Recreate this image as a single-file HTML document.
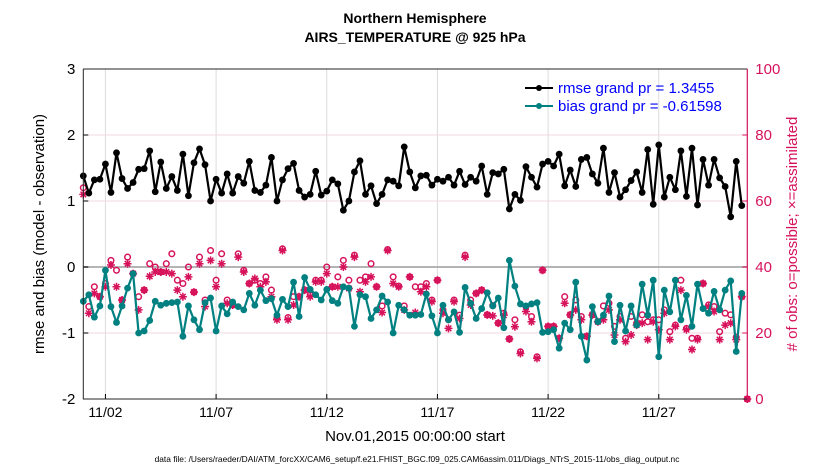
<!DOCTYPE html>
<html><head><meta charset="utf-8"><style>
body{margin:0;background:#fff;}
svg{display:block;font-family:"Liberation Sans",sans-serif;}
</style></head><body>
<svg id="chart" width="830" height="470" viewBox="0 0 830 470">
<text x="415" y="23" text-anchor="middle" font-size="14" font-weight="bold">Northern Hemisphere</text>
<text x="415" y="42" text-anchor="middle" font-size="14" font-weight="bold">AIRS_TEMPERATURE @ 925 hPa</text>
<g id="grid"></g>
<g id="marks"></g>
<g id="axes"></g>
<text transform="translate(44,234) rotate(-90)" text-anchor="middle" font-size="15">rmse and bias (model - observation)</text>
<text transform="translate(797,234) rotate(-90)" text-anchor="middle" font-size="15" fill="#d6125b"># of obs: o=possible; ×=assimilated</text>
<text x="415" y="441" text-anchor="middle" font-size="15">Nov.01,2015 00:00:00 start</text>
<text x="417" y="462" text-anchor="middle" font-size="8.4">data file: /Users/raeder/DAI/ATM_forcXX/CAM6_setup/f.e21.FHIST_BGC.f09_025.CAM6assim.011/Diags_NTrS_2015-11/obs_diag_output.nc</text>
<g>
<line x1="525" y1="88" x2="553" y2="88" stroke="#000" stroke-width="2"/>
<circle cx="539" cy="88" r="3" fill="#000"/>
<text x="558" y="93" font-size="15" fill="#0000ff">rmse grand pr = 1.3455</text>
<line x1="525" y1="106" x2="553" y2="106" stroke="#008080" stroke-width="2"/>
<circle cx="539" cy="106" r="3" fill="#008080"/>
<text x="558" y="111" font-size="15" fill="#0000ff">bias grand pr = -0.61598</text>
</g>
</svg>
<script>
const rmse=[1.38,1.12,1.32,1.33,1.56,1.13,1.73,1.34,1.19,1.28,1.48,1.49,1.76,1.14,1.59,1.19,1.37,1.16,1.71,1.08,1.58,1.79,1.55,1.0,1.33,1.12,1.41,1.12,1.37,1.27,
1.60,1.16,1.13,1.24,1.66,1.0,1.32,1.49,1.57,1.16,1.06,1.1,1.45,1.09,1.15,1.32,1.26,0.86,1.0,1.44,1.61,1.1,1.23,0.96,1.1,1.32,1.3,1.23,1.82,1.44,
1.2,1.38,1.39,1.24,1.33,1.3,1.36,1.24,1.45,1.25,1.36,1.3,1.53,1.10,1.43,1.41,1.48,0.88,1.10,1.01,1.52,1.36,1.21,1.56,1.6,1.53,1.71,1.23,1.47,1.22,
1.63,1.66,1.41,1.27,1.8,1.13,1.43,1.06,1.17,1.31,1.44,1.13,1.78,0.95,1.85,1.06,1.36,1.17,1.76,1.07,1.8,0.94,1.63,1.24,1.63,1.35,1.22,0.76,1.6,0.93];
const bias=[-0.52,-0.42,-0.76,-0.59,-0.05,-0.60,-0.84,-0.59,-0.32,-0.10,-1.0,-0.97,-0.81,-0.52,-0.58,-0.55,-0.54,-0.53,-1.05,-0.59,-0.80,-0.95,-0.54,-0.47,-0.97,-0.59,-0.71,-0.53,-0.60,-0.65,
-0.40,-0.58,-0.35,-0.51,-0.48,-0.73,-0.49,-0.60,-0.23,-0.75,-0.16,-0.34,-0.42,-0.50,-0.34,-0.51,-0.55,-0.30,-0.32,-0.90,-0.42,-0.45,-0.78,-0.65,-0.44,-0.53,-1.0,-0.58,-0.65,-0.73,
-0.73,-0.72,-0.41,-0.74,-1.0,-0.58,-0.80,-0.68,-0.99,-0.31,-0.55,-0.78,-0.63,-0.39,-0.59,-0.47,-0.92,0.10,-0.29,-0.56,-0.59,-0.56,-0.54,-0.99,-0.98,-0.95,-1.23,-0.85,-0.95,-0.23,
-1.05,-1.41,-0.60,-0.83,-0.73,-0.44,-1.13,-0.58,-0.97,-0.59,-0.88,-0.26,-0.73,-0.20,-1.36,-0.35,-0.68,-0.20,-0.80,-0.43,-0.90,-0.26,-0.63,-0.70,-0.37,-0.65,-0.35,-0.21,-1.28,-0.40];
const possible=[64,28,34,31,35,42,39,30,43,38,31,33,41,40,38.5,41,44,36,35,40,32.4,43,30,45,36,44,30,28.5,44,39,
35,36,35,37,33,24.5,45.5,24.7,31,31,33,31.5,36,36,40,34,37,42,36,43.6,36,37,41,34,28.2,45.3,37,34.2,28.2,37,
34,34,35,30,36,27,24,30,25.4,43.6,30,32,33,25.5,28.3,23,26,18.2,24,14.3,28,25,12.8,39,22,22,18.4,31,25.5,30,
25,19,25.5,23.4,28.2,29,22,25,18.4,25,23,25.5,23.4,24,24,27,20.4,22.4,36,21.4,18.4,18.4,35,28.5,28,20.4,26,25.5,18.7,31,0];
const assimilated=[62,26,32,31,34,40.6,34,30,41,38,27,33,37.2,38.5,38.5,38.5,38,33,31,37,32.4,41,28,42,34,41,29,28.5,43,38.5,
35,36.5,34,35.5,31,24,45,24,28.5,31,33,31,35.5,35.5,38,34,34,40,33.5,43,32.5,35.5,37,34,26.2,45,35,34,27,37,
26.2,32.5,34,29.5,36,26,21.4,29.5,24.4,43,28.5,32,33,25.5,25.2,23,25.4,18.2,21.9,13.8,26.5,23.4,12.3,39,22,22,18.4,29,25.5,27,
24,19,25.5,23.4,24,27,19.4,24,17.4,19.4,22.4,23,18,23.4,21,26,18,22,33,21,15,18,35,28,26.5,18,22.4,23,18,31,0];
const xTickDays=[1,6,11,16,21,26];
const xTickLabels=["11/02","11/07","11/12","11/17","11/22","11/27"];
const yLeftTicks=[3,2,1,0,-1,-2];
const yRightTicks=[100,80,60,40,20,0];

const NS="http://www.w3.org/2000/svg";
const L=83.3,R=747.3,T=69,B=399;
const xDay=d=>L+(R-L)*d/30;
const xIdx=i=>xDay(i/4);
const yL=v=>T+(3-v)*(B-T)/5;
const yR=v=>B-v*(B-T)/100;
function mk(tag,attrs,parent){const e=document.createElementNS(NS,tag);for(const k in attrs)e.setAttribute(k,attrs[k]);parent.appendChild(e);return e;}
const grid=document.getElementById('grid'),marks=document.getElementById('marks'),axes=document.getElementById('axes');
const RED="#d6125b",TEAL="#008080";
xTickDays.forEach((d,k)=>{
  const g=mk('line',{x1:xDay(d),x2:xDay(d),y1:T,y2:B,stroke:'#dcdcdc','stroke-width':1},grid);
  
  
  const t=mk('text',{x:xDay(d),y:B+18,'text-anchor':'middle','font-size':14},axes);
  t.textContent=xTickLabels[k];
  
  
  mk('line',{x1:xDay(d),x2:xDay(d),y1:B,y2:B-5,stroke:'#000'},axes);
});
yLeftTicks.forEach(v=>{
  if(v!==3&&v!==-2&&v!==0){const g=mk('line',{x1:L,x2:R,y1:yL(v),y2:yL(v),stroke:'#f0d8e2','stroke-width':1},grid);
  
  }
  const t=mk('text',{x:L-8,y:yL(v)+5,'text-anchor':'end','font-size':15},axes);
  t.textContent=v;
  
  
  mk('line',{x1:L,x2:L+5,y1:yL(v),y2:yL(v),stroke:'#000'},axes);
});
yRightTicks.forEach(v=>{
  const t=mk('text',{x:R+8,y:yR(v)+5,'font-size':15,fill:RED},axes);
  t.textContent=v;
  
  
  mk('line',{x1:R,x2:R-5,y1:yR(v),y2:yR(v),stroke:RED},axes);
});
const zl=mk('line',{x1:L,x2:R,y1:yL(0),y2:yL(0),stroke:'#b4b4b4','stroke-width':2},grid);


function star(x,y){const s=4,d=s*0.7;return `M${x-s},${y}L${x+s},${y}M${x},${y-s}L${x},${y+s}M${x-d},${y-d}L${x+d},${y+d}M${x-d},${y+d}L${x+d},${y-d}`;}
let sp='';
assimilated.forEach((v,i)=>{sp+=star(xIdx(i),yR(v));});
const stars=mk('path',{d:sp,stroke:RED,'stroke-width':1.5,fill:'none'},marks);


possible.forEach((v,i)=>{
  const c=mk('circle',{cx:xIdx(i),cy:yR(v),r:2.8,fill:'none',stroke:RED,'stroke-width':1.5},marks);
  
  
});
function series(vals,col,name){
  const pts=vals.map((v,i)=>xIdx(i)+','+yL(v)).join(' ');
  const pl=mk('polyline',{points:pts,fill:'none',stroke:col,'stroke-width':2.2,'stroke-linejoin':'round'},marks);
  
  
  vals.forEach((v,i)=>{
    const c=mk('circle',{cx:xIdx(i),cy:yL(v),r:3.4,fill:col},marks);
    
    
  });
}
series(bias,TEAL,'bias');
series(rmse,'#000','rmse');
const box=mk('path',{d:`M${L},${T}L${R},${T}M${L},${T}L${L},${B}L${R},${B}`,stroke:'#262626','stroke-width':1,fill:'none'},axes);


const rax=mk('line',{x1:R,x2:R,y1:T,y2:B,stroke:RED,'stroke-width':1.2},axes);


</script>
</body></html>
